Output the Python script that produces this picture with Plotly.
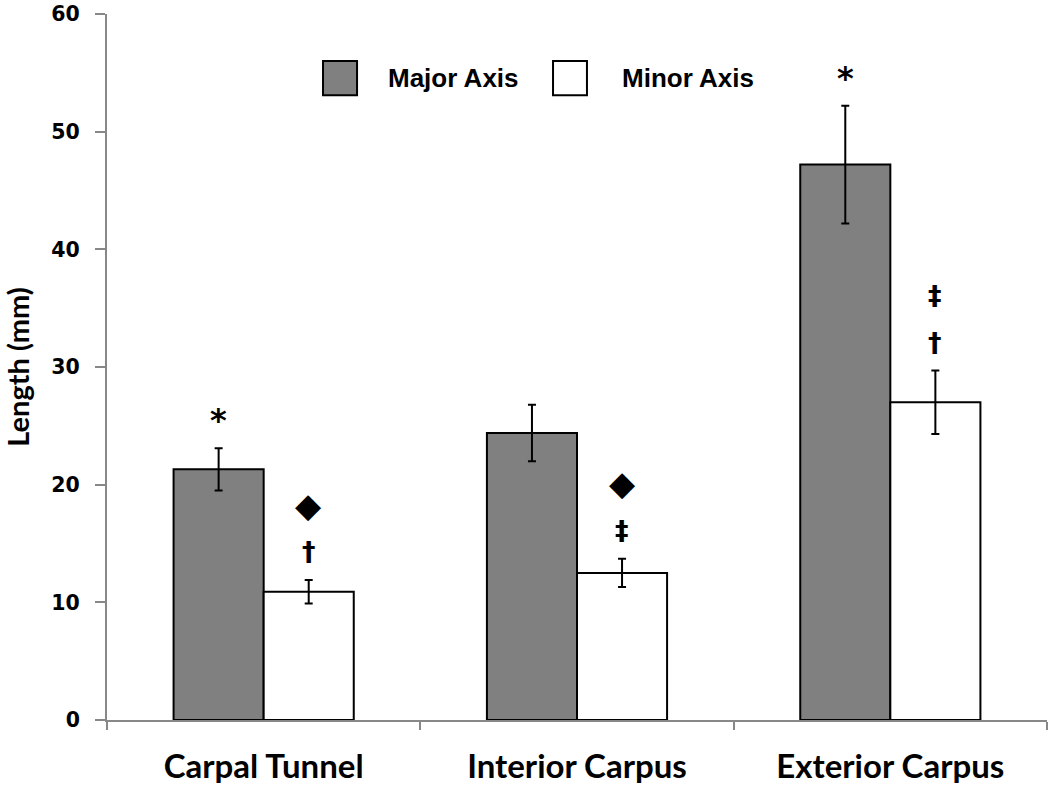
import plotly.graph_objects as go

categories = ["Carpal Tunnel", "Interior Carpus", "Exterior Carpus"]
major_vals = [21.3, 24.4, 47.2]
major_err = [1.8, 2.4, 5.0]
minor_vals = [10.9, 12.5, 27.0]
minor_err = [1.0, 1.2, 2.7]
major_marks = [["*"], [], ["*"]]
minor_marks = [["†", "◆"], ["‡", "◆"], ["†", "‡"]]
series_names = ["Major Axis", "Minor Axis"]

BARGAP = 0.425
half = (1 - BARGAP) / 4  # center offset of each bar within group

fig = go.Figure()
fig.add_trace(go.Bar(
    x=categories, y=major_vals, name=series_names[0],
    marker=dict(color="#808080", line=dict(color="black", width=2)),
    error_y=dict(type="data", array=major_err, color="black", thickness=2, width=4),
))
fig.add_trace(go.Bar(
    x=categories, y=minor_vals, name=series_names[1],
    marker=dict(color="white", line=dict(color="black", width=2)),
    error_y=dict(type="data", array=minor_err, color="black", thickness=2, width=4),
))

offsets = [2.4, 6.4]
size_for = {"*": 32, "◆": 34, "†": 27, "‡": 27}


def mark_ann(x, y, m):
    return dict(
        x=x, y=y, xref="x", yref="y", text=m, showarrow=False, yanchor="middle",
        font=dict(family="DejaVu Sans", size=size_for[m], color="black", weight="bold"),
    )


annotations = []
for i in range(len(categories)):
    for j, m in enumerate(major_marks[i]):
        annotations.append(mark_ann(i - half, major_vals[i] + major_err[i] + offsets[j], m))
    for j, m in enumerate(minor_marks[i]):
        annotations.append(mark_ann(i + half, minor_vals[i] + minor_err[i] + offsets[j], m))

# manual legend
leg_font = dict(family="Liberation Sans, Arial, sans-serif", size=26, color="black", weight="bold")
shapes = [
    dict(type="rect", xref="paper", yref="paper", x0=0.2298, x1=0.266, y0=0.885, y1=0.9334,
         fillcolor="#808080", line=dict(color="black", width=2)),
    dict(type="rect", xref="paper", yref="paper", x0=0.4745, x1=0.5106, y0=0.885, y1=0.9334,
         fillcolor="white", line=dict(color="black", width=2)),
]
annotations.append(dict(x=0.297, y=0.909, xref="paper", yref="paper", text=series_names[0],
                        showarrow=False, xanchor="left", yanchor="middle", font=leg_font))
annotations.append(dict(x=0.546, y=0.909, xref="paper", yref="paper", text=series_names[1],
                        showarrow=False, xanchor="left", yanchor="middle", font=leg_font))

fig.update_layout(
    width=1050, height=787,
    margin=dict(l=107, r=3, t=14, b=67),
    paper_bgcolor="white", plot_bgcolor="white",
    barmode="group", bargap=BARGAP, bargroupgap=0,
    showlegend=False,
    annotations=annotations, shapes=shapes,
)
fig.update_xaxes(
    automargin=False,
    showline=True, linecolor="#888888", linewidth=2,
    ticks="outside", tickson="boundaries", ticklen=8, tickcolor="#888888", tickwidth=2,
    ticklabelstandoff=16,
    tickfont=dict(family="Lato, sans-serif", size=33, color="black", weight="bold"),
    showgrid=False,
)
fig.update_yaxes(
    automargin=False,
    range=[0, 60], dtick=10,
    showline=True, linecolor="#888888", linewidth=2,
    ticks="outside", ticklen=10, tickcolor="#888888", tickwidth=2,
    ticklabelstandoff=11,
    tickfont=dict(family="DejaVu Sans", size=20.5, color="black", weight="bold"),
    showgrid=False, zeroline=False,
    title=dict(text="Length (mm)", font=dict(family="Lato, sans-serif", size=29, color="black", weight="bold"), standoff=14),
)

fig.write_html(
    "out.html",
    config={"displayModeBar": False},
    post_script="document.body.style.margin='0';document.body.style.overflow='hidden';",
)
